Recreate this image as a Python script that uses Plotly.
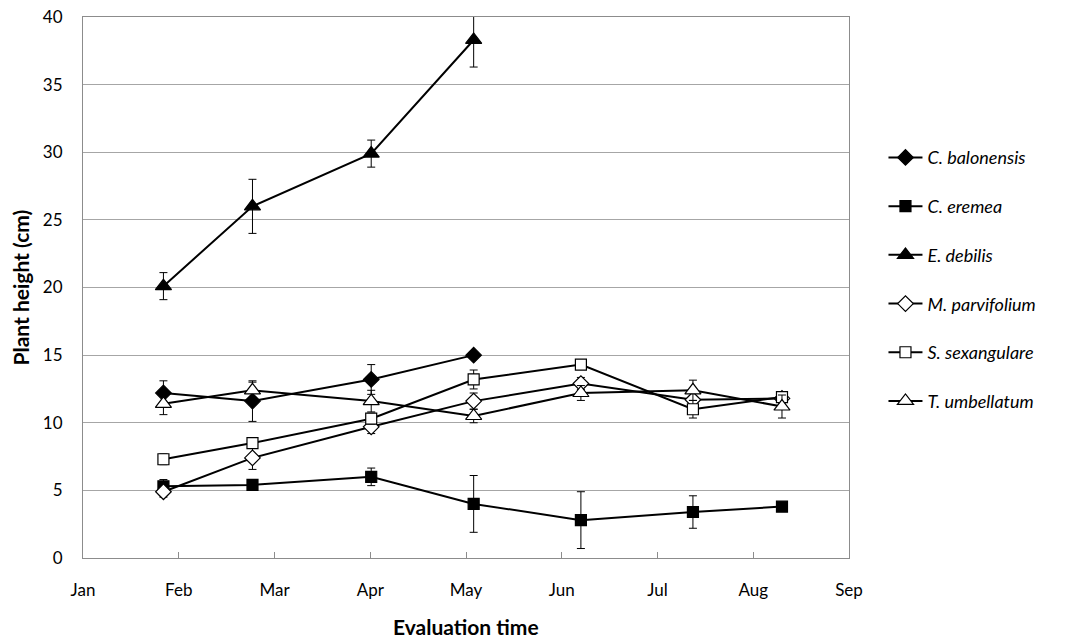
import plotly.graph_objects as go

# month offsets from 1 Jan (0 = Jan, 8 = Sep)
sample_month = [0.84, 1.77, 3.01, 4.08, 5.20, 6.37, 7.30]
month_ticks = [0, 1, 2, 3, 4, 5, 6, 7, 8]
month_labels = ["Jan", "Feb", "Mar", "Apr", "May", "Jun", "Jul", "Aug", "Sep"]

species = ["C. balonensis", "C. eremea", "E. debilis",
           "M. parvifolium", "S. sexangulare", "T. umbellatum"]

c_balonensis = [12.2, 11.6, 13.2, 15.0]
c_balonensis_err = [0.9, 1.5, 1.1, 0.2]

c_eremea = [5.3, 5.4, 6.0, 4.0, 2.8, 3.4, 3.8]
c_eremea_err = [0.5, 0.3, 0.65, 2.1, 2.1, 1.2, 0.2]

e_debilis = [20.1, 26.0, 29.9, 38.3]
e_debilis_err = [1.0, 2.0, 1.0, 2.0]

m_parvifolium = [4.9, 7.4, 9.7, 11.6, 12.9, 11.7, 11.8]
m_parvifolium_err = [0.4, 0.85, 0.5, 0.6, 0.45, 0.3, 0.3]

s_sexangulare = [7.3, 8.5, 10.3, 13.2, 14.3, 11.0, 11.9]
s_sexangulare_err = [0.4, 0.3, 0.4, 0.7, 0.3, 0.65, 0.3]

t_umbellatum = [11.4, 12.4, 11.6, 10.5, 12.2, 12.4, 11.2]
t_umbellatum_err = [0.8, 0.6, 0.8, 0.5, 0.55, 0.75, 0.85]

values = [c_balonensis, c_eremea, e_debilis, m_parvifolium, s_sexangulare, t_umbellatum]
errors = [c_balonensis_err, c_eremea_err, e_debilis_err,
          m_parvifolium_err, s_sexangulare_err, t_umbellatum_err]
symbols = ["diamond", "square", "triangle-up", "diamond", "square", "triangle-up"]
fills = ["black", "black", "black", "white", "white", "white"]
sizes = [12, 11, 14, 12, 11, 14]

fig = go.Figure()
for i, name in enumerate(species):
    y = values[i]
    fig.add_trace(go.Scatter(
        x=sample_month[:len(y)], y=y, name="<i>" + name + "</i>",
        mode="lines+markers",
        legendgroup=name,
        cliponaxis=False,
        line=dict(color="black", width=2),
        marker=dict(symbol=symbols[i], size=sizes[i], color=fills[i],
                    line=dict(color="black", width=1.2)),
        error_y=dict(type="data", array=errors[i], color="black",
                     thickness=1, width=4),
    ))

font_family = "Lato, 'Open Sans', sans-serif"
fig.update_layout(
    width=1068, height=639,
    margin=dict(l=83, r=219, t=17, b=81, autoexpand=False),
    paper_bgcolor="white", plot_bgcolor="white",
    font=dict(family=font_family, color="black", size=17),
    showlegend=True,
    legend=dict(x=1.045, xanchor="left", y=0.774, yanchor="top",
                font=dict(size=18, color="black"),
                traceorder="grouped", tracegroupgap=22.3,
                itemwidth=34,
                bgcolor="rgba(0,0,0,0)"),
    xaxis=dict(range=[0, 8], tickmode="array", tickvals=month_ticks,
               ticktext=month_labels, showgrid=False, zeroline=False,
               ticks="inside", ticklen=6, tickcolor="#8c8c8c",
               showline=True, linecolor="#8c8c8c", linewidth=1, mirror=True,
               ticklabelstandoff=17, automargin=False),
    yaxis=dict(range=[0, 40], tickvals=[0, 5, 10, 15, 20, 25, 30, 35, 40],
               showgrid=True, gridcolor="#a6a6a6", gridwidth=1,
               zeroline=False, ticks="",
               showline=True, linecolor="#8c8c8c", linewidth=1, mirror=True,
               ticklabelstandoff=16, automargin=False),
    annotations=[
        dict(text="<b>Evaluation time</b>", xref="paper", yref="paper",
             x=0.5, y=-0.1275, xanchor="center", yanchor="middle",
             showarrow=False, font=dict(size=21)),
        dict(text="<b>Plant height (cm)</b>", xref="paper", yref="paper",
             x=-0.0822, y=0.5, xanchor="center", yanchor="middle",
             textangle=-90, showarrow=False, font=dict(size=21)),
    ],
)

fig.write_html("out.html")
